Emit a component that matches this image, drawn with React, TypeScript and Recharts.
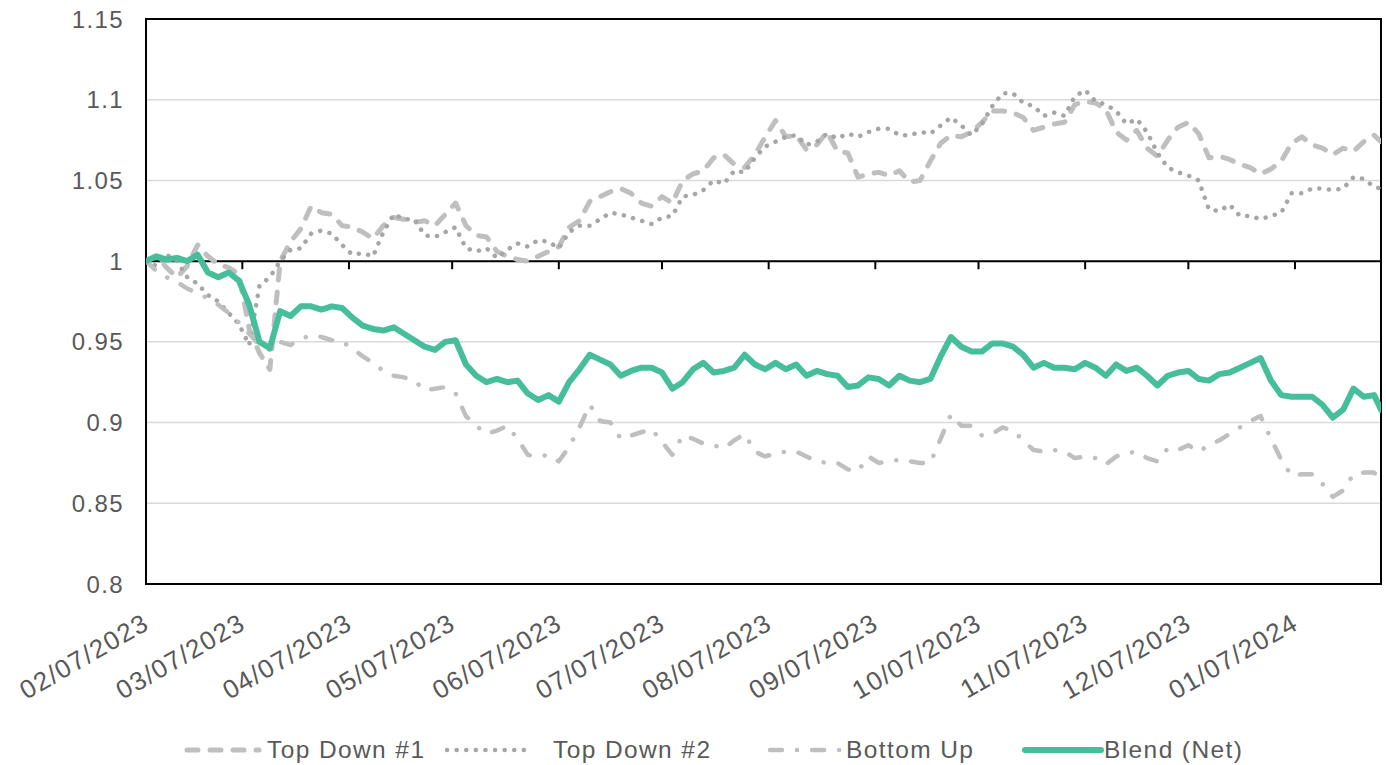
import React from 'react';
import { LineChart, Line, XAxis, YAxis, CartesianGrid, ReferenceLine, ReferenceArea, Legend } from 'recharts';

const START = '02/07/2023';
const END = '02/01/2024';

const dayOffsets = [0,3,6,9,12,15,18,21,24,27,30,33,36,39,42,45,48,51,54,57,60,63,66,69,72,75,78,81,84,87,90,93,96,99,102,105,108,111,114,117,120,123,126,129,132,135,138,141,144,147,150,153,156,159,162,165,168,171,174,177,180,183,186,189,192,195,198,201,204,207,210,213,216,219,222,225,228,231,234,237,240,243,246,249,252,255,258,261,264,267,270,273,276,279,282,285,288,291,294,297,300,303,306,309,312,315,318,321,324,327,330,333,336,339,342,345,348,351,354,357,359];

const tickLabels = ['02/07/2023','03/07/2023','04/07/2023','05/07/2023','06/07/2023','07/07/2023','08/07/2023','09/07/2023','10/07/2023','11/07/2023','12/07/2023','01/07/2024'];

const yTicks = [0.8, 0.85, 0.9, 0.95, 1, 1.05, 1.1, 1.15];

const topDown1 = [1.000,1.003,0.996,0.990,0.997,1.010,1.003,0.998,0.996,0.992,0.958,0.943,0.933,1.000,1.012,1.020,1.034,1.030,1.029,1.022,1.021,1.018,1.014,1.022,1.027,1.026,1.024,1.025,1.022,1.029,1.036,1.022,1.016,1.015,1.006,1.003,1.001,1.000,1.003,1.006,1.009,1.021,1.025,1.037,1.040,1.043,1.045,1.042,1.036,1.034,1.040,1.036,1.050,1.054,1.056,1.064,1.066,1.060,1.058,1.066,1.077,1.087,1.077,1.078,1.069,1.072,1.080,1.068,1.067,1.052,1.054,1.055,1.053,1.056,1.049,1.050,1.062,1.073,1.078,1.077,1.080,1.086,1.093,1.093,1.092,1.089,1.081,1.083,1.085,1.086,1.097,1.099,1.098,1.094,1.080,1.075,1.081,1.070,1.065,1.075,1.083,1.086,1.079,1.064,1.065,1.063,1.060,1.058,1.054,1.057,1.062,1.073,1.077,1.072,1.070,1.066,1.070,1.068,1.074,1.078,1.074];

const topDown2 = [1.000,0.997,1.004,1.000,0.990,0.986,0.979,0.975,0.968,0.961,0.948,0.985,0.990,1.000,1.007,1.008,1.017,1.019,1.017,1.010,1.004,1.005,1.003,1.018,1.029,1.026,1.026,1.016,1.015,1.018,1.021,1.008,1.006,1.008,1.002,1.007,1.011,1.009,1.013,1.012,1.008,1.018,1.022,1.022,1.026,1.030,1.029,1.027,1.025,1.023,1.027,1.028,1.040,1.041,1.044,1.050,1.048,1.056,1.055,1.064,1.071,1.074,1.077,1.078,1.072,1.074,1.079,1.076,1.079,1.077,1.080,1.082,1.082,1.078,1.078,1.080,1.079,1.084,1.089,1.084,1.078,1.085,1.096,1.104,1.104,1.098,1.096,1.090,1.092,1.090,1.102,1.106,1.099,1.097,1.093,1.085,1.088,1.080,1.067,1.058,1.055,1.053,1.050,1.032,1.031,1.035,1.028,1.028,1.026,1.028,1.030,1.042,1.042,1.045,1.045,1.044,1.045,1.052,1.051,1.046,1.045];

const bottomUp = [1.000,0.994,0.990,0.987,0.983,0.980,0.977,0.973,0.968,0.962,0.955,0.948,0.945,0.950,0.948,0.952,0.954,0.953,0.951,0.950,0.946,0.941,0.937,0.932,0.929,0.928,0.926,0.920,0.921,0.922,0.918,0.904,0.898,0.893,0.895,0.898,0.890,0.880,0.879,0.880,0.876,0.885,0.897,0.911,0.901,0.900,0.890,0.892,0.894,0.896,0.888,0.880,0.892,0.890,0.887,0.886,0.884,0.889,0.893,0.882,0.879,0.881,0.882,0.882,0.879,0.876,0.875,0.875,0.871,0.870,0.879,0.875,0.876,0.877,0.876,0.875,0.875,0.890,0.905,0.898,0.898,0.892,0.893,0.897,0.895,0.889,0.883,0.882,0.883,0.882,0.878,0.879,0.878,0.874,0.879,0.881,0.882,0.878,0.876,0.884,0.883,0.886,0.882,0.886,0.889,0.893,0.897,0.901,0.904,0.890,0.877,0.867,0.868,0.868,0.862,0.854,0.858,0.868,0.869,0.869,0.865];

const blendNet = [1.000,1.003,1.001,1.002,1.000,1.004,0.993,0.990,0.993,0.988,0.973,0.950,0.946,0.969,0.966,0.972,0.972,0.970,0.972,0.971,0.965,0.960,0.958,0.957,0.959,0.955,0.951,0.947,0.945,0.950,0.951,0.936,0.929,0.925,0.927,0.925,0.926,0.918,0.914,0.917,0.913,0.925,0.933,0.942,0.939,0.936,0.929,0.932,0.934,0.934,0.931,0.921,0.925,0.933,0.937,0.931,0.932,0.934,0.942,0.936,0.933,0.937,0.933,0.936,0.929,0.932,0.930,0.929,0.922,0.923,0.928,0.927,0.923,0.929,0.926,0.925,0.927,0.941,0.953,0.947,0.944,0.944,0.949,0.949,0.947,0.942,0.934,0.937,0.934,0.934,0.933,0.937,0.934,0.929,0.936,0.932,0.934,0.929,0.923,0.929,0.931,0.932,0.927,0.926,0.930,0.931,0.934,0.937,0.940,0.926,0.917,0.916,0.916,0.916,0.911,0.903,0.908,0.921,0.916,0.917,0.908];

const DAY = 86400000;
const parseDate = (s: string) => {
  const [m, d, y] = s.split('/').map(Number);
  return Date.UTC(y, m - 1, d);
};
const t0 = parseDate(START);
const lastDay = (parseDate(END) - t0) / DAY;
const tickDays = tickLabels.map((s) => (parseDate(s) - t0) / DAY);
const labelByDay: Record<number, string> = {};
tickDays.forEach((d, i) => { labelByDay[d] = tickLabels[i]; });

const data = dayOffsets.map((d, i) => ({
  day: d,
  td1: topDown1[i],
  td2: topDown2[i],
  bu: bottomUp[i],
  blend: blendNet[i],
}));

const FONT = "'Liberation Sans', Arial, sans-serif";
const TEXT = '#595959';
const LIGHT = '#bfbfbf';
const DOTC = '#a6a6a6';
const GREEN = '#47be9b';

const series = [
  { key: 'td1', name: 'Top Down #1', color: LIGHT, width: 5, dash: '11 12', lx: 187, lw: 72, tx: 267 },
  { key: 'td2', name: 'Top Down #2', color: DOTC, width: 4.5, dash: '0.1 9.5', lx: 447, lw: 82, tx: 553 },
  { key: 'bu', name: 'Bottom Up', color: LIGHT, width: 4.5, dash: '12 15 0.1 15', lx: 770, lw: 72, tx: 846 },
  { key: 'blend', name: 'Blend (Net)', color: GREEN, width: 6, dash: undefined as string | undefined, lx: 1025, lw: 76, tx: 1104 },
];

const XTick = (props: any) => {
  const { x, y, payload } = props;
  const ax = x + 5;
  return (
    <text
      x={ax}
      y={y}
      transform={`rotate(-30 ${ax} ${y})`}
      textAnchor="end"
      fontFamily={FONT}
      fontSize={26}
      letterSpacing={1.4}
      fill={TEXT}
    >
      {labelByDay[payload.value] ?? ''}
    </text>
  );
};

const renderLegend = () => (
  <div
    style={{
      position: 'relative',
      width: 1386,
      height: 40,
      fontFamily: FONT,
      fontSize: 24.5,
      letterSpacing: 1.4,
      color: TEXT,
    }}
  >
    {series.map((s) => (
      <React.Fragment key={s.key}>
        <svg
          width={s.lw + 8}
          height={20}
          style={{ position: 'absolute', left: s.lx - 4, top: 15 }}
        >
          <line
            x1={4}
            y1={10}
            x2={4 + s.lw}
            y2={10}
            stroke={s.color}
            strokeWidth={s.width}
            strokeDasharray={s.dash}
            strokeLinecap="round"
          />
        </svg>
        <span style={{ position: 'absolute', left: s.tx, top: 10, lineHeight: '30px', whiteSpace: 'nowrap' }}>
          {s.name}
        </span>
      </React.Fragment>
    ))}
  </div>
);

export default function App() {
  return (
    <div style={{ position: 'absolute', left: 0, top: 0, width: 1386, height: 765, background: '#fff' }}>
      <LineChart
        width={1386}
        height={765}
        data={data}
        margin={{ top: 19, right: 5, left: 86, bottom: 0 }}
      >
        <CartesianGrid horizontal vertical={false} stroke="#d9d9d9" strokeWidth={1.5} />
        <XAxis
          dataKey="day"
          type="number"
          domain={[0, lastDay]}
          ticks={tickDays}
          interval={0}
          axisLine={false}
          tickLine={false}
          tickSize={0}
          tickMargin={44}
          height={141}
          tick={<XTick />}
          allowDataOverflow
        />
        <YAxis
          type="number"
          domain={[0.8, 1.15]}
          ticks={yTicks}
          interval={0}
          width={60}
          axisLine={false}
          tickLine={false}
          tickSize={0}
          tickMargin={22}
          tickFormatter={(v: number) => String(v)}
          tick={{ fontFamily: FONT, fontSize: 24, fill: TEXT, letterSpacing: 1.4 }}
          allowDataOverflow
        />
        <ReferenceLine y={1} stroke="#000" strokeWidth={2} />
        {tickDays.map((d) => (
          <ReferenceLine
            key={'tk' + d}
            segment={[{ x: d, y: 1 }, { x: d, y: 0.995 }]}
            stroke="#000"
            strokeWidth={2}
          />
        ))}
        {series.map((s) => (
          <Line
            key={s.key}
            type="linear"
            dataKey={s.key}
            name={s.name}
            stroke={s.color}
            strokeWidth={s.width}
            strokeDasharray={s.dash}
            strokeLinecap="round"
            strokeLinejoin="round"
            dot={false}
            activeDot={false}
            isAnimationActive={false}
          />
        ))}
        <ReferenceArea x1={0} x2={lastDay} y1={0.8} y2={1.15} fill="none" stroke="#000" strokeWidth={2} />
        <Legend
          verticalAlign="bottom"
          content={renderLegend}
          wrapperStyle={{ left: 0, width: 1386, bottom: 0, height: 40 }}
        />
      </LineChart>
    </div>
  );
}
